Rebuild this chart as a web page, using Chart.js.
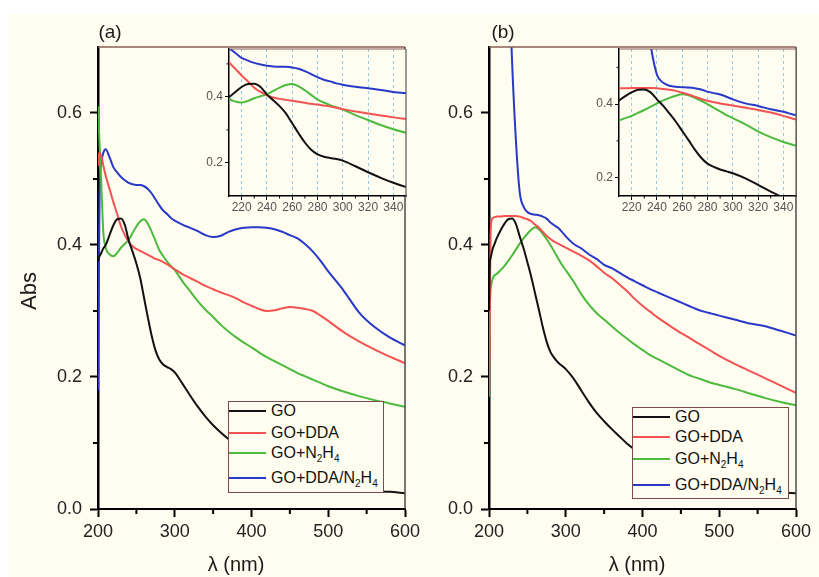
<!DOCTYPE html>
<html>
<head>
<meta charset="utf-8">
<script src="https://cdn.jsdelivr.net/npm/chart.js@4.4.1/dist/chart.umd.min.js"></script>
<style>
  html, body { margin: 0; padding: 0; background: #ffffff; }
  #page { position: relative; width: 819px; height: 577px; overflow: hidden; background: #ffffff;
          font-family: "Liberation Sans", Arial, sans-serif; color: #1a1a1a; }
  #paper { position: absolute; left: 8px; top: 15px; right: 0; bottom: 0; background: #fffdf0; }
  canvas.layer { position: absolute; left: 0; top: 0; }
  .lbl { position: absolute; white-space: nowrap; transform: translate(-50%, -50%); line-height: 1; }
  .legend { position: absolute; background: #fffdf0; border: 1px solid #7a4c4c; box-sizing: border-box; }
  .legend .row { position: absolute; left: 0; right: 0; height: 0; }
  .legend .swatch { position: absolute; left: 0; top: -1px; width: 37px; height: 2px; }
  .legend .txt { position: absolute; left: 42px; top: 0; transform: translateY(-50%);
                 font-size: 16px; line-height: 1; white-space: nowrap; color: #111; }
  .legend sub { font-size: 10px; vertical-align: -4px; line-height: 0; }
</style>
</head>
<body>
<div id="page">
  <div id="paper"></div>
  <canvas id="mainA" class="layer" width="819" height="577"></canvas>
  <canvas id="mainB" class="layer" width="819" height="577"></canvas>
  <canvas id="insetA" class="layer" width="819" height="577"></canvas>
  <canvas id="insetB" class="layer" width="819" height="577"></canvas>
  <div class="lbl" style="left:110px; top:31px; font-size:19px;">(a)</div>
  <div class="lbl" style="left:503px; top:31px; font-size:19px;">(b)</div>
  <div class="lbl" style="left:29px; top:291px; font-size:22px; transform: translate(-50%,-50%) rotate(-90deg);">Abs</div>
  <div class="lbl" style="left:236px; top:564px; font-size:20px;">λ (nm)</div>
  <div class="lbl" style="left:637px; top:564px; font-size:20px;">λ (nm)</div>
  <div id="legendA" class="legend" style="left:228px; top:401px; width:156px; height:92px;"></div>
  <div id="legendB" class="legend" style="left:632px; top:407px; width:157px; height:92px;"></div>
</div>
<script>
// Wavelength grid (nm) shared by every spectrum
const lambda = [200, 201, 202, 203, 205, 207, 210, 215, 220, 225, 230, 235, 240, 245, 250, 255,
                260, 265, 270, 275, 280, 285, 290, 295, 300, 310, 320, 330, 340, 350, 360, 370,
                380, 390, 400, 410, 420, 430, 440, 450, 460, 470, 480, 490, 500, 520, 540, 560,
                580, 600];

// Panel (a) absorbance
const goA   = [0.375, 0.380, 0.383, 0.385, 0.390, 0.395, 0.400, 0.415, 0.430, 0.439, 0.440, 0.430,
               0.407, 0.390, 0.372, 0.350, 0.320, 0.290, 0.262, 0.240, 0.226, 0.219, 0.215, 0.212,
               0.207, 0.190, 0.172, 0.155, 0.140, 0.127, 0.116, 0.106, 0.097, 0.088, 0.080, 0.072,
               0.065, 0.059, 0.053, 0.049, 0.045, 0.042, 0.039, 0.037, 0.035, 0.031, 0.029, 0.027,
               0.026, 0.024];
const ddaA  = [0.520, 0.535, 0.540, 0.538, 0.532, 0.520, 0.505, 0.485, 0.465, 0.447, 0.428, 0.415,
               0.405, 0.398, 0.394, 0.391, 0.388, 0.385, 0.382, 0.379, 0.377, 0.374, 0.371, 0.367,
               0.363, 0.356, 0.350, 0.344, 0.338, 0.333, 0.328, 0.324, 0.319, 0.313, 0.308, 0.303,
               0.300, 0.301, 0.304, 0.306, 0.305, 0.303, 0.300, 0.293, 0.285, 0.268, 0.254, 0.242,
               0.231, 0.221];
const n2h4A = [0.610, 0.580, 0.555, 0.530, 0.470, 0.418, 0.396, 0.386, 0.383, 0.388, 0.396, 0.402,
               0.408, 0.418, 0.428, 0.436, 0.439, 0.432, 0.420, 0.406, 0.392, 0.383, 0.375, 0.368,
               0.362, 0.345, 0.330, 0.315, 0.302, 0.291, 0.279, 0.269, 0.260, 0.252, 0.245, 0.237,
               0.230, 0.224, 0.218, 0.212, 0.206, 0.201, 0.196, 0.191, 0.186, 0.178, 0.171, 0.165,
               0.160, 0.155];
const bothA = [0.180, 0.350, 0.470, 0.510, 0.530, 0.540, 0.545, 0.533, 0.518, 0.510, 0.503, 0.498,
               0.494, 0.492, 0.491, 0.491, 0.489, 0.485, 0.478, 0.469, 0.460, 0.452, 0.447, 0.441,
               0.437, 0.431, 0.426, 0.421, 0.415, 0.412, 0.414, 0.420, 0.424, 0.426, 0.427, 0.427,
               0.426, 0.424, 0.420, 0.415, 0.410, 0.401, 0.390, 0.376, 0.360, 0.331, 0.298, 0.276,
               0.260, 0.248];

// Panel (b) absorbance
const goB   = [0.300, 0.370, 0.380, 0.385, 0.395, 0.401, 0.410, 0.422, 0.432, 0.439, 0.440, 0.432,
               0.413, 0.395, 0.374, 0.352, 0.327, 0.302, 0.276, 0.254, 0.238, 0.229, 0.222, 0.217,
               0.212, 0.198, 0.180, 0.162, 0.146, 0.133, 0.121, 0.110, 0.099, 0.090, 0.082, 0.074,
               0.067, 0.060, 0.054, 0.050, 0.046, 0.042, 0.039, 0.037, 0.035, 0.031, 0.029, 0.027,
               0.025, 0.024];
const ddaB  = [0.170, 0.300, 0.410, 0.435, 0.441, 0.442, 0.443, 0.443, 0.444, 0.444, 0.444, 0.444,
               0.443, 0.441, 0.439, 0.436, 0.431, 0.426, 0.420, 0.414, 0.409, 0.405, 0.402, 0.399,
               0.396, 0.390, 0.384, 0.377, 0.368, 0.358, 0.350, 0.340, 0.330, 0.318, 0.308, 0.299,
               0.290, 0.282, 0.274, 0.267, 0.260, 0.253, 0.246, 0.239, 0.232, 0.220, 0.209, 0.198,
               0.187, 0.176];
const n2h4B = [0.220, 0.300, 0.330, 0.340, 0.350, 0.354, 0.356, 0.362, 0.368, 0.376, 0.384, 0.393,
               0.402, 0.410, 0.417, 0.423, 0.427, 0.424, 0.417, 0.409, 0.400, 0.390, 0.380, 0.370,
               0.362, 0.345, 0.326, 0.310, 0.297, 0.287, 0.277, 0.267, 0.258, 0.249, 0.241, 0.233,
               0.227, 0.221, 0.215, 0.209, 0.203, 0.199, 0.195, 0.191, 0.188, 0.182, 0.175, 0.168,
               0.162, 0.157];
const bothB = [0.900, 0.900, 0.900, 0.900, 0.900, 0.900, 0.900, 0.900, 0.900, 0.850, 0.680, 0.560,
               0.480, 0.458, 0.450, 0.447, 0.446, 0.445, 0.443, 0.440, 0.434, 0.430, 0.426, 0.420,
               0.413, 0.402, 0.395, 0.386, 0.379, 0.370, 0.365, 0.358, 0.351, 0.345, 0.339, 0.333,
               0.328, 0.323, 0.318, 0.313, 0.308, 0.303, 0.299, 0.296, 0.293, 0.287, 0.281, 0.277,
               0.270, 0.263];

const seriesNames  = ['GO', 'GO+DDA', 'GO+N₂H₄', 'GO+DDA/N₂H₄'];
const seriesColors = ['#111111', '#f25252', '#4cba3c', '#2838c8'];

// Axis ticks
const xTicks      = [200, 300, 400, 500, 600];
const xMinor      = [250, 350, 450, 550];
const yTicks      = [0.0, 0.2, 0.4, 0.6];
const yMinor      = [0.1, 0.3, 0.5];
const insetXTicks = [220, 240, 260, 280, 300, 320, 340];
const insetXMinor = [230, 250, 270, 290, 310, 330];
const insetYTicks = [0.2, 0.4];
const insetYMinor = [0.3, 0.5];

Chart.defaults.font.family = '"Liberation Sans", Arial, sans-serif';

// Frame lines on top/right, minor ticks and optional plot background
const axisDecor = {
  id: 'axisDecor',
  beforeDraw(chart, args, o) {
    if (!o.fill) return;
    const a = chart.chartArea, ctx = chart.ctx;
    ctx.save(); ctx.fillStyle = o.fill;
    ctx.fillRect(a.left, a.top, a.right - a.left, a.bottom - a.top);
    ctx.restore();
  },
  afterDraw(chart, args, o) {
    const {ctx, chartArea: a, scales: {x, y}} = chart;
    ctx.save();
    ctx.lineWidth = o.frameWidth;
    ctx.strokeStyle = o.frameTop;
    ctx.beginPath(); ctx.moveTo(a.left, a.top); ctx.lineTo(a.right, a.top); ctx.stroke();
    ctx.strokeStyle = o.frameRight;
    ctx.beginPath(); ctx.moveTo(a.right, a.top); ctx.lineTo(a.right, a.bottom); ctx.stroke();
    ctx.strokeStyle = '#000'; ctx.lineWidth = o.minorWidth;
    ctx.beginPath();
    o.minorX.forEach(v => { const p = x.getPixelForValue(v); ctx.moveTo(p, a.bottom); ctx.lineTo(p, a.bottom + o.minorLen); });
    o.minorY.forEach(v => { const p = y.getPixelForValue(v); ctx.moveTo(a.left, p); ctx.lineTo(a.left - o.minorLen, p); });
    ctx.stroke();
    ctx.restore();
  }
};

function datasetsFrom(values) {
  return values.map((vals, i) => ({
    label: seriesNames[i],
    data: lambda.map((l, j) => ({x: l, y: vals[j]})),
    borderColor: seriesColors[i],
    borderWidth: 2,
    pointRadius: 0,
    cubicInterpolationMode: 'monotone',
    fill: false
  }));
}

function mainChart(id, values, padLeft, padRight) {
  return new Chart(document.getElementById(id), {
    type: 'line',
    data: {datasets: datasetsFrom(values)},
    plugins: [axisDecor],
    options: {
      responsive: false, animation: false, events: [],
      layout: {padding: {left: padLeft, right: padRight, top: 47, bottom: 0}},
      plugins: {
        legend: {display: false}, tooltip: {enabled: false},
        axisDecor: {frameTop: '#8a5e56', frameRight: '#4a4a4a', frameWidth: 1.5,
                    minorX: xMinor, minorY: yMinor, minorLen: 5, minorWidth: 2}
      },
      scales: {
        x: {
          type: 'linear', min: 200, max: 600,
          afterBuildTicks: s => { s.ticks = xTicks.map(v => ({value: v})); },
          afterFit: s => { s.height = 68; },
          grid: {drawOnChartArea: false, drawTicks: true, tickLength: 8, tickColor: '#000', tickWidth: 2},
          border: {color: '#000', width: 2},
          ticks: {font: {size: 18}, color: '#222', padding: 4, maxRotation: 0, autoSkip: false,
                  callback: v => String(v)}
        },
        y: {
          type: 'linear', min: 0, max: 0.7,
          afterBuildTicks: s => { s.ticks = yTicks.map(v => ({value: v})); },
          afterFit: s => { s.width = 98; },
          grid: {drawOnChartArea: false, drawTicks: true, tickLength: 8, tickColor: '#000', tickWidth: 2},
          border: {color: '#000', width: 2.5},
          ticks: {font: {size: 18}, color: '#222', padding: 8, autoSkip: false,
                  callback: v => Number(v).toFixed(1)}
        }
      }
    }
  });
}

function insetChart(id, values, padLeft, padRight, yMin, yMax) {
  return new Chart(document.getElementById(id), {
    type: 'line',
    data: {datasets: datasetsFrom(values)},
    plugins: [axisDecor],
    options: {
      responsive: false, animation: false, events: [],
      layout: {padding: {left: padLeft, right: padRight, top: 49, bottom: 359}},
      plugins: {
        legend: {display: false}, tooltip: {enabled: false},
        axisDecor: {fill: '#fffdf0', frameTop: '#8a5e56', frameRight: '#5a5a5a', frameWidth: 1.2,
                    minorX: insetXMinor, minorY: insetYMinor, minorLen: 2.5, minorWidth: 1}
      },
      scales: {
        x: {
          type: 'linear', min: 210, max: 350,
          afterBuildTicks: s => { s.ticks = insetXTicks.map(v => ({value: v})); },
          afterFit: s => { s.height = 22; },
          grid: {drawOnChartArea: true, color: '#93cbe6', lineWidth: 1,
                 drawTicks: true, tickLength: 4, tickColor: '#000', tickWidth: 1},
          border: {color: '#000', width: 1.5, dash: [3, 3]},
          ticks: {font: {size: 12}, color: '#555', padding: 0, maxRotation: 0, autoSkip: false,
                  callback: v => String(v)}
        },
        y: {
          type: 'linear', min: yMin, max: yMax,
          afterBuildTicks: s => { s.ticks = insetYTicks.map(v => ({value: v})); },
          afterFit: s => { s.width = 30; },
          grid: {drawOnChartArea: false, drawTicks: true, tickLength: 4, tickColor: '#000', tickWidth: 1},
          border: {color: '#000', width: 1.5},
          ticks: {font: {size: 12}, color: '#555', padding: 2, autoSkip: false,
                  callback: v => Number(v).toFixed(1)}
        }
      }
    }
  });
}

mainChart('mainA', [goA, ddaA, n2h4A, bothA], 0, 414);
mainChart('mainB', [goB, ddaB, n2h4B, bothB], 391, 23);
insetChart('insetA', [goA, ddaA, n2h4A, bothA], 199, 413, 0.1, 0.545);
insetChart('insetB', [goB, ddaB, n2h4B, bothB], 589, 23, 0.15, 0.55);

// Legends built from the series names and colours
function buildLegend(id, rowOffsets) {
  const box = document.getElementById(id);
  seriesNames.forEach((name, i) => {
    const row = document.createElement('div');
    row.className = 'row';
    row.style.top = rowOffsets[i] + 'px';
    const sw = document.createElement('div');
    sw.className = 'swatch';
    sw.style.background = seriesColors[i];
    const tx = document.createElement('div');
    tx.className = 'txt';
    tx.innerHTML = name.replace(/₂/g, '<sub>2</sub>').replace(/₄/g, '<sub>4</sub>');
    row.appendChild(sw); row.appendChild(tx);
    box.appendChild(row);
  });
}
buildLegend('legendA', [9, 31, 51, 76]);
buildLegend('legendB', [9, 29, 51, 77]);
</script>
</body>
</html>
